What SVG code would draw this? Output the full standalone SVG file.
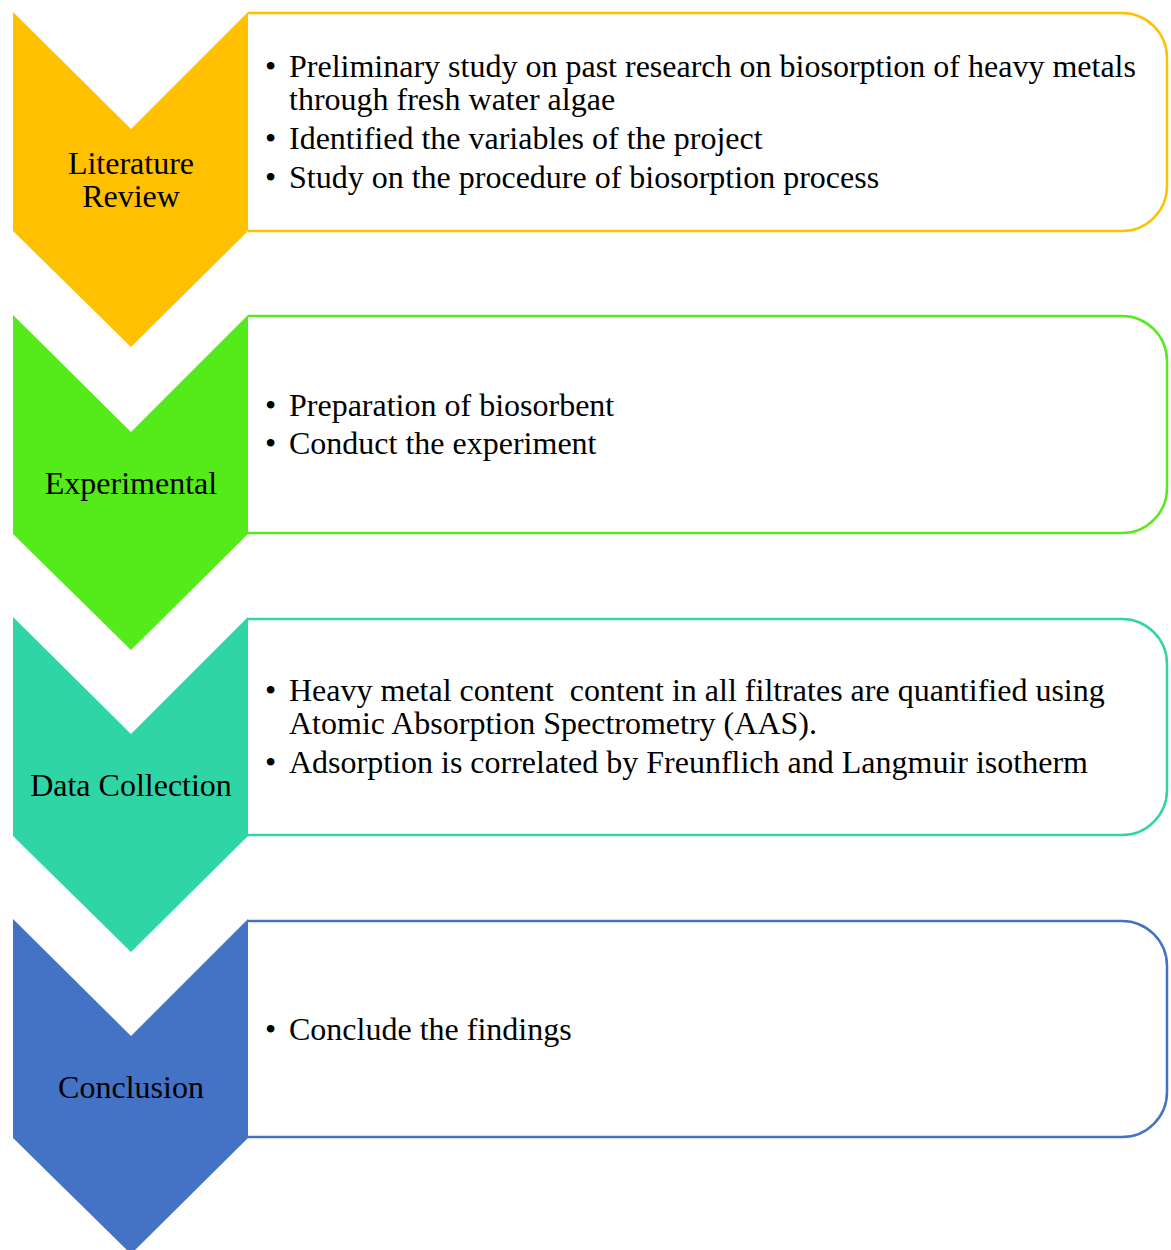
<svg xmlns="http://www.w3.org/2000/svg" width="1171" height="1250" viewBox="0 0 1171 1250">
<style>
text{font-family:"Liberation Serif","Times New Roman",serif;font-size:32px;fill:#000;white-space:pre}
.lbl{text-anchor:middle}
.box{fill:#fff;stroke-width:2.5}
</style>
<rect width="1171" height="1250" fill="#fff"/>
<g id="connectors"></g>
<g id="step1">
<polygon points="13,12 131,129 248,12 248,231 131,347 13,231" fill="#FFC000"/>
<path class="box" stroke="#FFC000" d="M248,13 H1122 A45,45 0 0 1 1167,58 V186 A45,45 0 0 1 1122,231 H248"/>
<text class="lbl" x="131" y="174">Literature</text>
<text class="lbl" x="131" y="207">Review</text>
<text x="265" y="77">•</text><text x="289" y="77">Preliminary study on past research on biosorption of heavy metals</text>
<text x="289" y="110">through fresh water algae</text>
<text x="265" y="149">•</text><text x="289" y="149">Identified the variables of the project</text>
<text x="265" y="188">•</text><text x="289" y="188">Study on the procedure of biosorption process</text>
</g>
<g id="step2">
<polygon points="13,315 131,432 248,315 248,534 131,650 13,534" fill="#55EA1A"/>
<path class="box" stroke="#55EA1A" d="M248,316 H1122 A45,45 0 0 1 1167,361 V488 A45,45 0 0 1 1122,533 H248"/>
<text class="lbl" x="131" y="494">Experimental</text>
<text x="265" y="416">•</text><text x="289" y="416">Preparation of biosorbent</text>
<text x="265" y="454">•</text><text x="289" y="454">Conduct the experiment</text>
</g>
<g id="step3">
<polygon points="13,617 131,734 248,617 248,836 131,952 13,836" fill="#30D5A5"/>
<path class="box" stroke="#30D5A5" d="M248,619 H1122 A45,45 0 0 1 1167,664 V790 A45,45 0 0 1 1122,835 H248"/>
<text class="lbl" x="131" y="796">Data Collection</text>
<text x="265" y="701">•</text><text x="289" y="701">Heavy metal content  content in all filtrates are quantified using</text>
<text x="289" y="734">Atomic Absorption Spectrometry (AAS).</text>
<text x="265" y="773">•</text><text x="289" y="773">Adsorption is correlated by Freunflich and Langmuir isotherm</text>
</g>
<g id="step4">
<polygon points="13,919 131,1036 248,919 248,1138 131,1254 13,1138" fill="#4472C4"/>
<path class="box" stroke="#4472C4" d="M248,921 H1122 A45,45 0 0 1 1167,966 V1092 A45,45 0 0 1 1122,1137 H248"/>
<text class="lbl" x="131" y="1098">Conclusion</text>
<text x="265" y="1040">•</text><text x="289" y="1040">Conclude the findings</text>
</g>
</svg>
